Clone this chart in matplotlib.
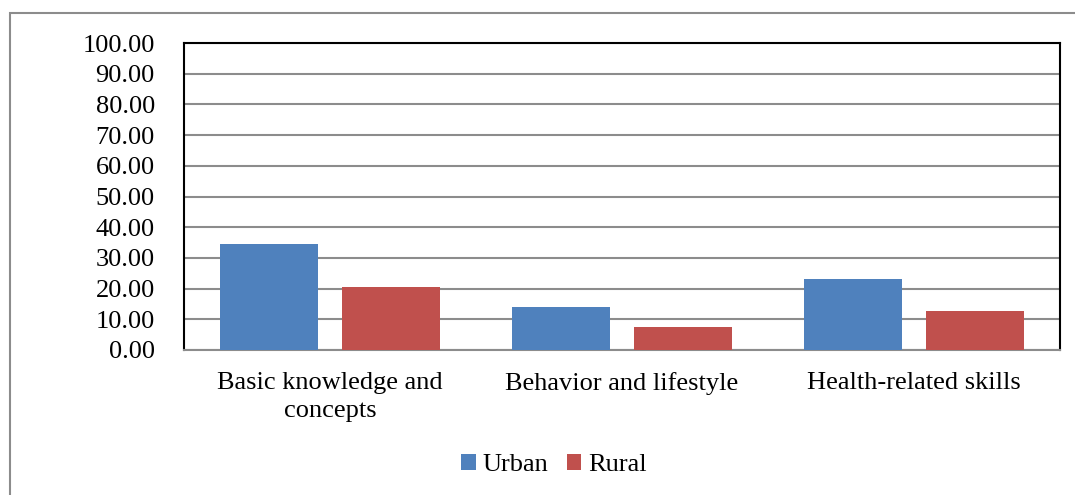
import matplotlib.pyplot as plt
import matplotlib.patches as mpatches
import numpy as np

# data
categories = ['Basic knowledge and\nconcepts', 'Behavior and lifestyle', 'Health-related skills']
urban = [34.4, 14.1, 23.0]
rural = [20.4, 7.4, 12.7]

plt.rcParams['font.family'] = ['Liberation Serif', 'DejaVu Serif']

fig = plt.figure(figsize=(10.75, 4.95), dpi=100)
ax = fig.add_axes([0.1712, 0.293, 0.8149, 0.620])

# outer chart-area border (open on right and bottom, like the crop)
fig.patches.append(mpatches.Rectangle((10/1075, -0.01), 1.02, 1 - 13/495 + 0.01,
                                      transform=fig.transFigure, fill=False,
                                      edgecolor='#8c8c8c', linewidth=1.5))

index = np.arange(len(categories))
bar_width = 0.336
offset = 0.209

ax.bar(index - offset, urban, bar_width, color='#4f81bd', label='Urban', zorder=3)
ax.bar(index + offset, rural, bar_width, color='#c0504d', label='Rural', zorder=3)

ax.set_xlim(-0.5, 2.5)
ax.set_ylim(0, 100)
ax.set_yticks(range(0, 101, 10))
ax.set_yticklabels(['%.2f' % v for v in range(0, 101, 10)], fontsize=19)
ax.set_xticks(index)
ax.set_xticklabels(categories, fontsize=19, linespacing=1.35)
ax.tick_params(axis='both', length=0)
ax.tick_params(axis='y', pad=21)
ax.tick_params(axis='x', pad=16)
ax.yaxis.grid(True, color='#8c8c8c', linewidth=1.5, zorder=0)

for side in ['top', 'left', 'right']:
    ax.spines[side].set_color('black')
    ax.spines[side].set_linewidth(1.5)
ax.spines['bottom'].set_color('#8c8c8c')
ax.spines['bottom'].set_linewidth(1.5)

ax.legend(loc='center', bbox_to_anchor=(554/1075, 30/495), bbox_transform=fig.transFigure,
          ncol=2, frameon=False, fontsize=19, handlelength=0.55, handleheight=0.55,
          handletextpad=0.25, columnspacing=0.7)

plt.savefig('out.png')
